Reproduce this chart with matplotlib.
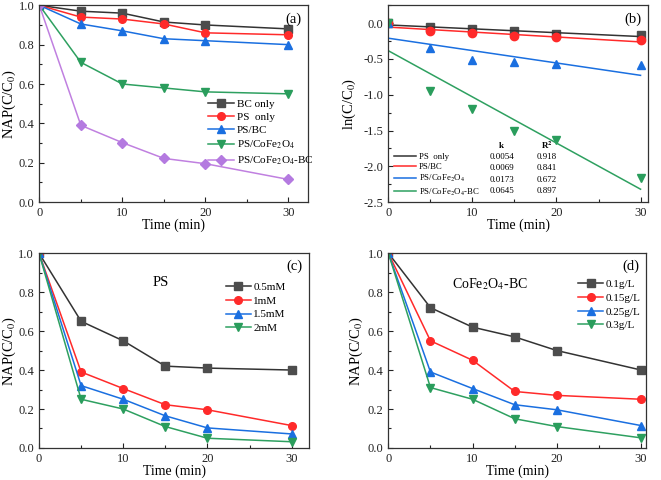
import matplotlib
matplotlib.use("Agg")
import matplotlib.pyplot as plt
import numpy as np
from matplotlib.ticker import MultipleLocator, FormatStrFormatter

plt.rcParams['font.family'] = ['Liberation Serif', 'DejaVu Serif']
plt.rcParams['mathtext.fontset'] = 'stix'

time = [0, 5, 10, 15, 20, 30]

# Panel (a)
a_labels = ['BC only', 'PS  only', 'PS/BC', 'PS/CoFe$_2$O$_4$', 'PS/CoFe$_2$O$_4$-BC']
a_values = [
    [1.0, 0.97, 0.96, 0.915, 0.90, 0.88],
    [1.0, 0.94, 0.93, 0.905, 0.86, 0.85],
    [1.0, 0.905, 0.87, 0.83, 0.82, 0.80],
    [1.0, 0.71, 0.60, 0.58, 0.56, 0.55],
    [1.0, 0.39, 0.302, 0.222, 0.195, 0.115],
]

# Panel (b)
b_labels = ['PS  only', 'PS/BC', 'PS/CoFe$_2$O$_4$', 'PS/CoFe$_2$O$_4$-BC']
b_points = [
    [0.0, -0.06, -0.08, -0.115, -0.15, -0.17],
    [0.0, -0.105, -0.14, -0.185, -0.20, -0.23],
    [0.0, -0.34, -0.51, -0.54, -0.57, -0.59],
    [0.0, -0.95, -1.20, -1.51, -1.63, -2.16],
]
b_k = [0.0054, 0.0069, 0.0173, 0.0645]
b_intercept = [-0.025, -0.055, -0.21, -0.385]
b_k_text = ['0.0054', '0.0069', '0.0173', '0.0645']
b_r2_text = ['0.918', '0.841', '0.672', '0.897']

# Panel (c)
c_labels = ['0.5mM', '1mM', '1.5mM', '2mM']
c_values = [
    [1.0, 0.65, 0.55, 0.42, 0.41, 0.40],
    [1.0, 0.39, 0.305, 0.222, 0.196, 0.115],
    [1.0, 0.32, 0.25, 0.165, 0.103, 0.072],
    [1.0, 0.25, 0.20, 0.11, 0.05, 0.032],
]

# Panel (d)
d_labels = ['0.1g/L', '0.15g/L', '0.25g/L', '0.3g/L']
d_values = [
    [1.0, 0.72, 0.62, 0.57, 0.50, 0.40],
    [1.0, 0.55, 0.45, 0.29, 0.27, 0.25],
    [1.0, 0.39, 0.305, 0.222, 0.196, 0.115],
    [1.0, 0.31, 0.25, 0.15, 0.11, 0.052],
]

line_colors = ['#333333', '#ff2a2a', '#1a6fe0', '#2ea060', '#c080e0']
marker_colors = ['#4d4d4d', '#ff2a2a', '#1a6fe0', '#2a9d5c', '#b47ae0']
markers = ['s', 'o', '^', 'v', 'D']

fig = plt.figure(figsize=(6.61, 4.8), dpi=100)
ax_a = fig.add_axes([0.0595, 0.579, 0.407, 0.410])
ax_b = fig.add_axes([0.5875, 0.579, 0.393, 0.410])
ax_c = fig.add_axes([0.059, 0.0667, 0.409, 0.406])
ax_d = fig.add_axes([0.5875, 0.0667, 0.390, 0.406])

def style(ax, ylabel, xmax, ylim, ymaj, ymin, ylx):
    ax.set_xlim(0, xmax)
    ax.set_ylim(*ylim)
    ax.xaxis.set_major_locator(MultipleLocator(10))
    ax.xaxis.set_minor_locator(MultipleLocator(5))
    ax.yaxis.set_major_locator(MultipleLocator(ymaj))
    ax.yaxis.set_minor_locator(MultipleLocator(ymin))
    ax.yaxis.set_major_formatter(FormatStrFormatter('%.1f'))
    ax.tick_params(which='both', direction='in', labelsize=9, colors='#222222')
    ax.tick_params(which='major', length=3.5, width=0.8)
    ax.tick_params(which='minor', length=2, width=0.8)
    for s in ax.spines.values():
        s.set_color('#333333')
        s.set_linewidth(0.9)
    ax.set_xlabel('Time (min)', fontsize=10, labelpad=0)
    ax.set_ylabel(ylabel, fontsize=10.5)
    ax.yaxis.set_label_coords(ylx, 0.5)

ylab = 'NAP(C/C$_0$)'
leg_kw = dict(loc='upper left', frameon=False, fontsize=8, handlelength=2.3,
              borderpad=0, borderaxespad=0)

# (a)
for i, (lab, vals) in enumerate(zip(a_labels, a_values)):
    ax_a.plot(time, vals, color=line_colors[i], marker=markers[i], markersize=5.5 if markers[i] != 'D' else 5,
              markerfacecolor=marker_colors[i], markeredgecolor=marker_colors[i], linewidth=1.1, label=lab)
style(ax_a, ylab, 32.4, (0, 1.0), 0.2, 0.1, -0.078)
ax_a.legend(bbox_to_anchor=(0.628, 0.522), handletextpad=0.3, labelspacing=0.3, **leg_kw)
ax_a.text(0.975, 0.93, '(a)', transform=ax_a.transAxes, ha='right', va='center', fontsize=10.5)

# (b)
xfit = np.array([0, 30])
for i in range(4):
    ax_b.plot(time, b_points[i], linestyle='none', marker=markers[i], markersize=6,
              color=marker_colors[i])
    ax_b.plot(xfit, b_intercept[i] - b_k[i] * xfit, color=line_colors[i], linewidth=1.1, label=b_labels[i])
style(ax_b, 'ln(C/C$_0$)', 30.9, (-2.5, 0.25), 0.5, 0.25, -0.115)
ax_b.legend(loc='upper left', bbox_to_anchor=(0.02, 0.252), frameon=False, fontsize=6.3,
            handlelength=2.6, handletextpad=0.3, labelspacing=0.25, borderpad=0, borderaxespad=0)
ax_b.text(0.975, 0.93, '(b)', transform=ax_b.transAxes, ha='right', va='center', fontsize=10.5)
ax_b.text(0.436, 0.287, 'k', transform=ax_b.transAxes, ha='center', va='center', fontsize=6.5, fontweight='bold')
ax_b.text(0.609, 0.287, 'R$^\\mathbf{2}$', transform=ax_b.transAxes, ha='center', va='center', fontsize=6.5, fontweight='bold')
rows = [0.228, 0.171, 0.114, 0.056]
for r, kt, rt in zip(rows, b_k_text, b_r2_text):
    ax_b.text(0.436, r, kt, transform=ax_b.transAxes, ha='center', va='center', fontsize=6.5)
    ax_b.text(0.609, r, rt, transform=ax_b.transAxes, ha='center', va='center', fontsize=6.5)

# (c)
for i, (lab, vals) in enumerate(zip(c_labels, c_values)):
    ax_c.plot(time, vals, color=line_colors[i], marker=markers[i], markersize=5.5,
              markerfacecolor=marker_colors[i], markeredgecolor=marker_colors[i], linewidth=1.1, label=lab)
style(ax_c, ylab, 32.1, (0, 1.0), 0.2, 0.1, -0.078)
ax_c.legend(bbox_to_anchor=(0.69, 0.85), handletextpad=0.2, labelspacing=0.35, **leg_kw)
ax_c.text(0.975, 0.93, '(c)', transform=ax_c.transAxes, ha='right', va='center', fontsize=10.5)
ax_c.text(14.5, 0.85, 'PS', ha='center', va='center', fontsize=10.5)

# (d)
for i, (lab, vals) in enumerate(zip(d_labels, d_values)):
    ax_d.plot(time, vals, color=line_colors[i], marker=markers[i], markersize=5.5,
              markerfacecolor=marker_colors[i], markeredgecolor=marker_colors[i], linewidth=1.1, label=lab)
style(ax_d, ylab, 30.6, (0, 1.0), 0.2, 0.1, -0.090)
ax_d.legend(bbox_to_anchor=(0.735, 0.865), handletextpad=0.2, labelspacing=0.35, **leg_kw)
ax_d.text(0.975, 0.93, '(d)', transform=ax_d.transAxes, ha='right', va='center', fontsize=10.5)
ax_d.text(12, 0.84, 'CoFe$_2$O$_4$-BC', ha='center', va='center', fontsize=10)

fig.savefig('out.png', dpi=100)
